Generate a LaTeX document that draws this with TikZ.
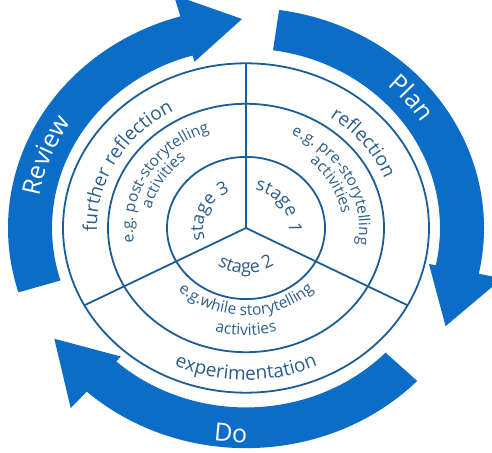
\documentclass[tikz,border=0pt]{standalone}
\usepackage{fontspec}
\setmainfont{Open Sans}
\usetikzlibrary{decorations.text}
\definecolor{bandblue}{HTML}{0B6DC7}
\definecolor{ringblue}{HTML}{1C5D95}
\definecolor{txtblue}{HTML}{2C5E89}
\tikzset{
  ring/.style={draw=ringblue, line width=1.8},
  band/.style={fill=bandblue},
}
% #1 colour, #2 font size, #3 start angle, #4 end angle, #5 radius, #6 text
\newcommand\arclabel[6]{%
  \path[decorate, decoration={text along path, text align=center, text color=#1,
    text={|\fontsize{#2}{#2}\selectfont|#6}}]
    (#3:#5) arc[start angle=#3, end angle=#4, radius=#5];}
% #1 tail angle, #2 head base angle, #3 tip angle
\newcommand\bandarrow[3]{%
  \fill[band] (#1:194) arc[start angle=#1, end angle=#2, radius=194]
    -- (#2:187) -- (#3:226) -- (#2:262) -- (#2:238)
    arc[start angle=#2, end angle=#1, radius=238] -- cycle;}
\begin{document}
\begin{tikzpicture}[x=1pt, y=1pt]
\useasboundingbox (0,0) rectangle (492,452);
\fill[white] (0,0) rectangle (492,452);
% blue cycle arrows
\begin{scope}[shift={(246,224)}, yscale=0.925]
  \bandarrow{197}{106}{91}
  \bandarrow{82}{-12}{-28}
  \bandarrow{-44}{-132}{-148}
  \arclabel{white}{25}{240}{80}{209}{Review}
  \arclabel{white}{25}{118}{-42}{209}{Plan}
  \arclabel{white}{25}{226}{306}{232}{Do}
\end{scope}
% rings
\begin{scope}[shift={(246,224)}, yscale=0.9]
  \coordinate (c) at (0,0);
  \coordinate (s1) at (90:183);
  \coordinate (s2) at (208:183);
  \coordinate (s3) at (332:183);
  \draw[ring] (c) circle[radius=183];
  \draw[ring] (c) circle[radius=138];
  \draw[ring] (c) circle[radius=79];
  \draw[ring] (c) -- (s1);
  \draw[ring] (c) -- (s2);
  \draw[ring] (c) -- (s3);
  % outer ring texts
  \arclabel{txtblue}{19}{232}{72}{149}{further reflection}
  \arclabel{txtblue}{19}{116}{-44}{149}{reflection}
  \arclabel{txtblue}{19}{190}{350}{169}{experimentation}
  % middle ring texts
  \arclabel{txtblue}{15.5}{240}{60}{113}{e.g. post-storytelling}
  \arclabel{txtblue}{15.5}{230}{70}{97}{activities}
  \arclabel{txtblue}{15.5}{117}{-63}{113}{e.g. pre-storytelling}
  \arclabel{txtblue}{15.5}{107}{-53}{97}{activities}
  \arclabel{txtblue}{15.5}{180}{360}{97}{e.g.while storytelling}
  \arclabel{txtblue}{15.5}{190}{350}{119}{activities}
  % stages
  \arclabel{txtblue}{18}{246}{66}{43}{stage 3}
  \arclabel{txtblue}{18}{124}{-56}{43}{stage 1}
  \arclabel{txtblue}{18}{180}{360}{50}{stage 2}
\end{scope}
\end{tikzpicture}
\end{document}
